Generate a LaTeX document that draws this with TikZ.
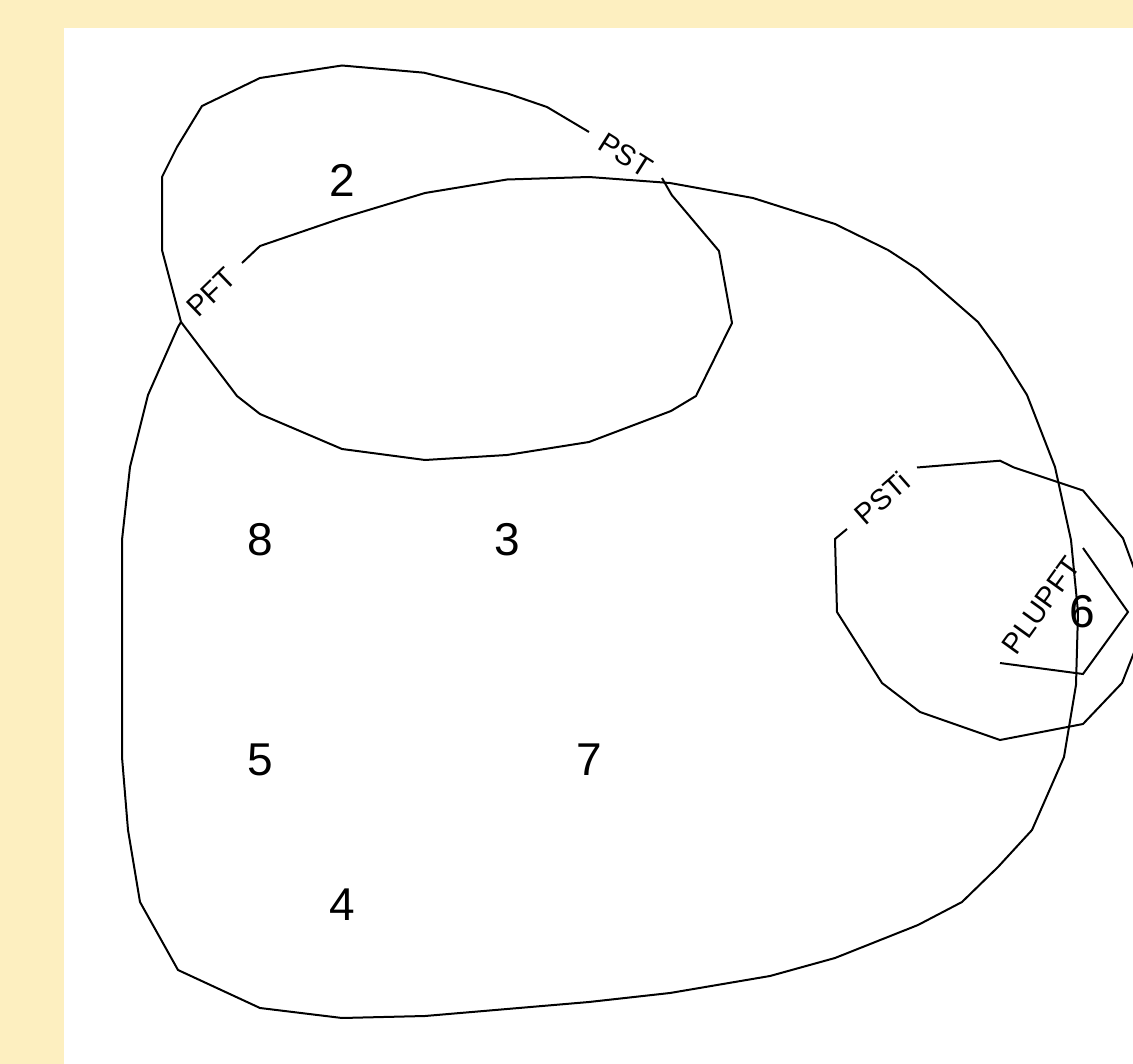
\documentclass[tikz,border=0pt]{standalone}
\usepackage{fontspec}
\setmainfont{Liberation Sans}
\definecolor{framecream}{RGB}{253,239,192}
\tikzset{
  regionline/.style={
    draw=black,
    line width=2pt
  },
  regionnum/.style={
    inner sep=0pt,
    font=\fontsize{46}{46}\selectfont
  },
  curvelabel/.style={
    sloped,
    inner sep=0pt,
    font=\fontsize{29}{29}\selectfont
  }
}

\begin{document}
\begin{tikzpicture}[x=1pt, y=-1pt]
  \fill[framecream] (0,0) rectangle (1133,1064);
  \fill[white] (64,28) rectangle (1133,1064);
  \useasboundingbox (0,0) rectangle (1133,1064);
  \clip (0,0) rectangle (1133,1064);

  \coordinate (pftA) at (181,322);
  \coordinate (pftB) at (242,263);
  \coordinate (pstA) at (589,132);
  \coordinate (pstB) at (662,178);
  \coordinate (pstiA) at (847,529);
  \coordinate (pstiB) at (917,467.5);
  \coordinate (plupftA) at (1000,663);
  \coordinate (plupftB) at (1083,548);

  \draw[regionline] (pftB) -- (260,246) -- (342,218) -- (425,193) -- (507,179.5) -- (589,177)
    -- (670,183) -- (753,198) -- (835,224) -- (888,250) -- (918,269.5) -- (978,322)
    -- (1000,352) -- (1027,395) -- (1055,467) -- (1071,540) -- (1078,612) -- (1076,685)
    -- (1064,757) -- (1032,830) -- (998,867) -- (962,902) -- (918,925) -- (835,958)
    -- (770,976) -- (670,993) -- (589,1002) -- (507,1009) -- (425,1016) -- (342,1018)
    -- (260,1008) -- (178,970) -- (140,902) -- (128,830) -- (122,757) -- (122,685)
    -- (122,612) -- (122,540) -- (130,467) -- (148,395) -- (178,327) -- (pftA);
  \path (pftA) -- node[curvelabel] (pft) {PFT} (pftB);

  \draw[regionline] (pstB) -- (671.7,195) -- (719,251) -- (732,323) -- (696,396) -- (671,411)
    -- (589,442) -- (507,455) -- (425,460) -- (342,449) -- (260,414) -- (237,396)
    -- (181,322) -- (162,250) -- (162,177) -- (177,147) -- (202,106) -- (260,78)
    -- (342,65.5) -- (424,72.7) -- (507,93.3) -- (547,107) -- (pstA);
  \path (pstA) -- node[curvelabel] (pst) {PST} (pstB);

  \draw[regionline] (pstiB) -- (1000,460.7) -- (1014,467.5) -- (1083,490.5) -- (1123,538.3)
    -- (1150,612) -- (1122,683) -- (1083,724) -- (1000,740) -- (920,712) -- (882,683)
    -- (837,612) -- (835,539) -- (pstiA);
  \path (pstiA) -- node[curvelabel] (psti) {PSTi} (pstiB);

  \draw[regionline] (plupftB) -- (1128,612) -- (1083,674) -- (plupftA);
  \path (plupftA) -- node[curvelabel] (plupft) {PLUPFT} (plupftB);

  \node[regionnum] (n2) at (342,180) {2};
  \node[regionnum] (n8) at (260,540) {8};
  \node[regionnum] (n3) at (507,540) {3};
  \node[regionnum] (n5) at (260,760) {5};
  \node[regionnum] (n7) at (589,760) {7};
  \node[regionnum] (n4) at (342,905) {4};
  \node[regionnum] (n6) at (1082,612) {6};
\end{tikzpicture}
\end{document}
